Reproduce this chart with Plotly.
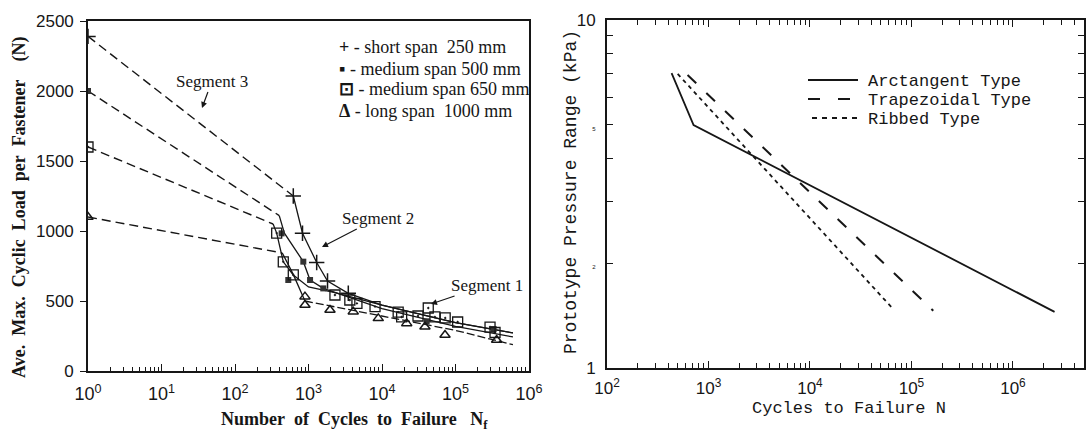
import plotly.graph_objects as go

W, H = 1089, 432

# ---------------- Left chart: data (N = cycles, L = load in N) ----------------
short_N = [1, 621, 829, 1292, 1815, 3478]
short_L = [2390, 1250, 984, 775, 643, 555]
short_fit3_N = [1, 621]
short_fit3_L = [2390, 1250]
short_fit_N = [621, 829, 1292, 1815, 3478, 1e4, 1e5, 6.05e5]
short_fit_L = [1250, 984, 775, 643, 555, 470, 345, 272]

m500_N = [1, 431, 531, 850, 1050, 1590, 40500, 3.3e5]
m500_L = [2000, 983, 650, 781, 650, 590, 355, 300]
m500_fit3_N = [1, 400]
m500_fit3_L = [2000, 1110]
m500_fit_N = [400, 470, 850, 1050, 1590, 1e4, 1e5, 6.05e5]
m500_fit_L = [1110, 985, 781, 650, 590, 445, 318, 243]

m650_N = [1, 369, 454, 621, 2290, 3650, 4560, 8040, 16600, 18500, 30900, 42600,
          52500, 72400, 1.07e5, 2.95e5, 3.45e5]
m650_L = [1600, 985, 780, 686, 543, 507, 483, 460, 421, 386, 393, 450,
          386, 379, 350, 314, 275]
m650_fit3_N = [1, 330]
m650_fit3_L = [1600, 1050]
m650_fit_N = [330, 369, 454, 621, 1000, 2290, 1e4, 1e5, 6.05e5]
m650_fit_L = [1050, 985, 780, 686, 600, 560, 470, 345, 272]

long_N = [1, 895, 895, 1960, 4060, 8900, 21700, 38400, 72000, 3.63e5]
long_L = [1100, 531, 471, 436, 424, 376, 340, 316, 257, 221]
long_fit3_N = [1, 440]
long_fit3_L = [1100, 843]
long_fit2_N = [440, 620, 895]
long_fit2_L = [843, 690, 500]
long_fit1_N = [895, 1e4, 1e5, 6.05e5]
long_fit1_L = [500, 390, 290, 188]

left_xticks = [1, 10, 100, 1e3, 1e4, 1e5, 1e6]
left_xticklabels = ["10<sup>0</sup>", "10<sup>1</sup>", "10<sup>2</sup>", "10<sup>3</sup>",
                    "10<sup>4</sup>", "10<sup>5</sup>", "10<sup>6</sup>"]
left_yticks = [0, 500, 1000, 1500, 2000, 2500]

# ---------------- Right chart: data (N = cycles, P = pressure kPa) ----------------
arct_N = [433, 713, 2.57e6]
arct_P = [7.04, 4.99, 1.45]
trap_N = [622, 1.64e5]
trap_P = [6.95, 1.46]
rib_N = [497, 6.7e4]
rib_P = [7.0, 1.47]

right_xticks = [1e2, 1e3, 1e4, 1e5, 1e6]
right_xticklabels = ["10<sup>2</sup>", "10<sup>3</sup>", "10<sup>4</sup>",
                     "10<sup>5</sup>", "10<sup>6</sup>"]
right_yticks = [1, 2, 5, 10]
right_yticklabels = ["1", "<span style='font-size:6px'>2</span>",
                     "<span style='font-size:6px'>5</span>", "10"]
right_yminor = [3, 4, 6, 7, 8, 9]

INK = "#161616"
SERIF = "Liberation Serif, Times New Roman, serif"
SANS = "Liberation Sans, Arial, sans-serif"
MONO = "Liberation Mono, Courier New, monospace"


def px(x):
    return x / W


def py(y):
    return 1 - y / H


def log_minor(lo, hi):
    vals = []
    for d in range(lo, hi):
        for k in range(2, 10):
            vals.append(k * 10 ** d)
    return vals


fig = go.Figure()

# left chart lines
dash_long = "9px,5px"
for n, l in [(short_fit3_N, short_fit3_L), (m500_fit3_N, m500_fit3_L),
             (m650_fit3_N, m650_fit3_L), (long_fit3_N, long_fit3_L)]:
    fig.add_trace(go.Scatter(x=n, y=l, mode="lines", xaxis="x", yaxis="y",
                             line=dict(color=INK, width=1.4, dash=dash_long),
                             showlegend=False, hoverinfo="skip"))
for n, l in [(short_fit_N, short_fit_L), (m500_fit_N, m500_fit_L),
             (m650_fit_N, m650_fit_L), (long_fit2_N, long_fit2_L)]:
    fig.add_trace(go.Scatter(x=n, y=l, mode="lines", xaxis="x", yaxis="y",
                             line=dict(color=INK, width=1.3),
                             showlegend=False, hoverinfo="skip"))
fig.add_trace(go.Scatter(x=long_fit1_N, y=long_fit1_L, mode="lines", xaxis="x", yaxis="y",
                         line=dict(color=INK, width=1.3, dash="8px,3px"),
                         showlegend=False, hoverinfo="skip"))

# left chart markers
fig.add_trace(go.Scatter(x=short_N, y=short_L, mode="markers", xaxis="x", yaxis="y",
                         name="short span 250 mm",
                         marker=dict(symbol="cross-thin", size=11, color=INK,
                                     line=dict(color=INK, width=1.5)),
                         showlegend=False))
fig.add_trace(go.Scatter(x=m500_N, y=m500_L, mode="markers", xaxis="x", yaxis="y",
                         name="medium span 500 mm",
                         marker=dict(symbol="square", size=6, color="#333333",
                                     line=dict(width=0)),
                         showlegend=False))
fig.add_trace(go.Scatter(x=m650_N, y=m650_L, mode="markers", xaxis="x", yaxis="y",
                         name="medium span 650 mm",
                         marker=dict(symbol="square-open-dot", size=10, color=INK,
                                     line=dict(color=INK, width=1.3)),
                         showlegend=False))
fig.add_trace(go.Scatter(x=long_N, y=long_L, mode="markers", xaxis="x", yaxis="y",
                         name="long span 1000 mm",
                         marker=dict(symbol="triangle-up-open", size=9, color=INK,
                                     line=dict(color=INK, width=1.5)),
                         showlegend=False))

# right chart lines
fig.add_trace(go.Scatter(x=arct_N, y=arct_P, mode="lines", xaxis="x2", yaxis="y2",
                         name="Arctangent Type", line=dict(color=INK, width=1.8),
                         showlegend=False))
fig.add_trace(go.Scatter(x=trap_N, y=trap_P, mode="lines", xaxis="x2", yaxis="y2",
                         name="Trapezoidal Type",
                         line=dict(color=INK, width=2, dash="12px,14px"),
                         showlegend=False))
fig.add_trace(go.Scatter(x=rib_N, y=rib_P, mode="lines", xaxis="x2", yaxis="y2",
                         name="Ribbed Type",
                         line=dict(color=INK, width=1.8, dash="4px,4px"),
                         showlegend=False))

axis_common = dict(showgrid=False, zeroline=False, linecolor=INK, tickcolor=INK,
                   automargin=False)

fig.update_layout(
    width=W, height=H,
    margin=dict(l=0, r=0, t=0, b=0, pad=0, autoexpand=False),
    paper_bgcolor="white", plot_bgcolor="white",
    showlegend=False,
    xaxis=dict(type="log", range=[0, 6], domain=[px(88), px(529)], anchor="y",
               tickmode="array", tickvals=left_xticks, ticktext=left_xticklabels,
               ticks="inside", ticklen=7, tickwidth=1.2,
               minor=dict(tickmode="array", tickvals=log_minor(0, 6), ticks="inside",
                          ticklen=4, tickwidth=1, tickcolor=INK),
               showline=True, linewidth=1.6, mirror=True,
               tickfont=dict(family=SANS, size=18, color=INK), ticklabelstandoff=6,
               **axis_common),
    yaxis=dict(range=[0, 2500], domain=[py(371), py(21)], anchor="x",
               tickmode="array", tickvals=left_yticks,
               ticks="outside", ticklen=6, tickwidth=1.3,
               showline=True, linewidth=1.6, mirror=True,
               tickfont=dict(family=SANS, size=17, color=INK), ticklabelstandoff=3,
               **axis_common),
    xaxis2=dict(type="log", range=[2, 6.70], domain=[px(607), px(1084)], anchor="y2",
                tickmode="array", tickvals=right_xticks, ticktext=right_xticklabels,
                ticks="inside", ticklen=7, tickwidth=1.3,
                minor=dict(tickmode="array", tickvals=log_minor(2, 7), ticks="inside",
                           ticklen=5, tickwidth=1.2, tickcolor=INK),
                showline=True, linewidth=2, mirror="ticks",
                tickfont=dict(family=SANS, size=17, color=INK), ticklabelstandoff=4,
                **axis_common),
    yaxis2=dict(type="log", range=[0, 1], domain=[py(368), py(20)], anchor="x2",
                tickmode="array", tickvals=right_yticks, ticktext=right_yticklabels,
                ticks="inside", ticklen=6, tickwidth=1.3,
                minor=dict(tickmode="array", tickvals=right_yminor, ticks="inside",
                           ticklen=6, tickwidth=1.3, tickcolor=INK),
                showline=True, linewidth=2, mirror="ticks",
                tickfont=dict(family=SANS, size=17, color=INK), ticklabelstandoff=6,
                **axis_common),
)

ann = []
# axis titles
ann.append(dict(x=px(19), y=py(207), xref="paper", yref="paper", showarrow=False,
                textangle=-90,
                text="<b>Ave.\u00a0 Max.\u00a0 Cyclic\u00a0 Load\u00a0 per\u00a0 Fastener\u00a0\u00a0\u00a0 (N)</b>",
                font=dict(family=SERIF, size=18, color=INK), xanchor="center", yanchor="middle"))
ann.append(dict(x=px(354), y=py(420), xref="paper", yref="paper", showarrow=False,
                text="<b>Number\u00a0 of\u00a0 Cycles\u00a0 to\u00a0 Failure\u00a0\u00a0 N<sub>f</sub></b>",
                font=dict(family=SERIF, size=18, color=INK), xanchor="center", yanchor="middle"))
ann.append(dict(x=px(571), y=py(192), xref="paper", yref="paper", showarrow=False,
                textangle=-90, text="Prototype Pressure Range (kPa)",
                font=dict(family=MONO, size=18, color=INK), xanchor="center", yanchor="middle"))
ann.append(dict(x=px(849), y=py(408), xref="paper", yref="paper", showarrow=False,
                text="Cycles to Failure N",
                font=dict(family=MONO, size=17, color=INK), xanchor="center", yanchor="middle"))

# left legend (text key)
left_legend = [("+", "- short span\u00a0 250 mm", 47),
               ("\u25aa", "- medium span 500 mm", 69),
               ("\u22a1", "- medium span 650 mm", 89),
               ("\u0394", "- long span\u00a0 1000 mm", 111)]
for sym, txt, yy in left_legend:
    ann.append(dict(x=px(337), y=py(yy), xref="paper", yref="paper", showarrow=False,
                    text="<b>" + sym + "</b> " + txt, xanchor="left", yanchor="middle",
                    font=dict(family=SERIF, size=18, color=INK)))

# segment labels with arrows
for txt, tx, ty, hx, hy in [("Segment 3", 212, 81, 202, 108),
                            ("Segment 2", 378, 218, 322, 247),
                            ("Segment 1", 487, 285, 431, 304)]:
    ann.append(dict(x=px(hx), y=py(hy), xref="paper", yref="paper", showarrow=True,
                    ax=tx - hx, ay=ty - hy, text=txt, arrowhead=2, arrowsize=1,
                    arrowwidth=1.2, arrowcolor=INK, standoff=0,
                    font=dict(family=SERIF, size=17, color=INK)))

# right legend text
for txt, yy in [("Arctangent Type", 81), ("Trapezoidal Type", 100), ("Ribbed Type", 119)]:
    ann.append(dict(x=px(866), y=py(yy), xref="paper", yref="paper", showarrow=False,
                    text=txt, xanchor="left", yanchor="middle",
                    font=dict(family=MONO, size=17, color=INK)))

fig.update_layout(annotations=ann)

shapes = [
    dict(type="line", xref="paper", yref="paper", x0=px(808), x1=px(858), y0=py(80), y1=py(80),
         line=dict(color=INK, width=2)),
    dict(type="line", xref="paper", yref="paper", x0=px(808), x1=px(858), y0=py(99), y1=py(99),
         line=dict(color=INK, width=2, dash="12px,18px")),
    dict(type="line", xref="paper", yref="paper", x0=px(812), x1=px(858), y0=py(118), y1=py(118),
         line=dict(color=INK, width=1.8, dash="5px,5px")),
]
fig.update_layout(shapes=shapes)

fig.write_html("out.html")
